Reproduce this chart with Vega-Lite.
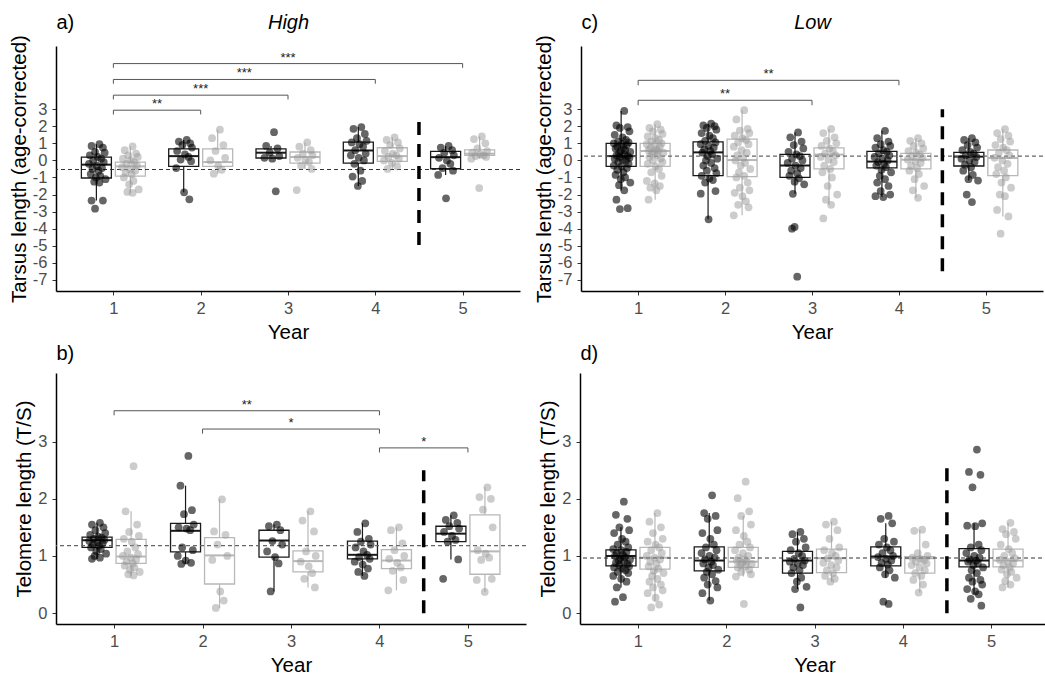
{
"$schema":"https://vega.github.io/schema/vega-lite/v6.json",
"padding":{"left":9,"top":12,"right":0,"bottom":0},
"config":{"font":"Liberation Sans","view":{"stroke":null},
"axis":{"grid":false,"domainColor":"#000","domainWidth":1.5,"tickColor":"#333","tickSize":4,"tickWidth":1,"labelFontSize":16.5,"labelColor":"#4d4d4d","labelPadding":5,"titleFontSize":20.5,"titleFontWeight":"normal","titleColor":"#000","titlePadding":6,"labelOverlap":false,"labelFlush":false},
"axisY":{"titlePadding":3}},
"datasets":{
"a_box":[{"g":"b","year":1,"lo":-2.35,"q1":-1.03,"med":-0.25,"q3":0.19,"hi":0.95},{"g":"g","year":1,"lo":-1.9,"q1":-0.92,"med":-0.35,"q3":-0.1,"hi":0.82},{"g":"b","year":2,"lo":-1.87,"q1":-0.35,"med":0.25,"q3":0.68,"hi":1.2},{"g":"g","year":2,"lo":-0.78,"q1":-0.35,"med":-0.1,"q3":0.68,"hi":1.8},{"g":"b","year":3,"lo":0.1,"q1":0.14,"med":0.45,"q3":0.68,"hi":0.85},{"g":"g","year":3,"lo":-0.5,"q1":-0.16,"med":0.2,"q3":0.49,"hi":1.05},{"g":"b","year":4,"lo":-1.5,"q1":-0.16,"med":0.58,"q3":1.07,"hi":1.95},{"g":"g","year":4,"lo":-0.5,"q1":-0.06,"med":0.25,"q3":0.74,"hi":1.35},{"g":"b","year":5,"lo":-0.85,"q1":-0.49,"med":0.19,"q3":0.53,"hi":0.85},{"g":"g","year":5,"lo":0.1,"q1":0.29,"med":0.39,"q3":0.62,"hi":1.4}],
"c_box":[{"g":"b","year":1,"lo":-1.76,"q1":-0.35,"med":0.25,"q3":1.0,"hi":2.9},{"g":"g","year":1,"lo":-2.3,"q1":-0.35,"med":0.55,"q3":1.0,"hi":2.12},{"g":"b","year":2,"lo":-3.45,"q1":-0.89,"med":0.47,"q3":1.09,"hi":2.15},{"g":"g","year":2,"lo":-3.22,"q1":-0.95,"med":0.02,"q3":1.25,"hi":2.94},{"g":"b","year":3,"lo":-1.96,"q1":-0.99,"med":-0.3,"q3":0.35,"hi":1.64},{"g":"g","year":3,"lo":-2.6,"q1":-0.5,"med":0.34,"q3":0.73,"hi":1.84},{"g":"b","year":4,"lo":-2.15,"q1":-0.44,"med":-0.07,"q3":0.53,"hi":1.73},{"g":"g","year":4,"lo":-2.19,"q1":-0.5,"med":0.04,"q3":0.41,"hi":1.3},{"g":"b","year":5,"lo":-1.18,"q1":-0.33,"med":0.22,"q3":0.47,"hi":1.3},{"g":"g","year":5,"lo":-3.28,"q1":-0.89,"med":0.14,"q3":0.61,"hi":1.83}],
"b_box":[{"g":"b","year":1,"lo":0.95,"q1":1.15,"med":1.275,"q3":1.33,"hi":1.58},{"g":"g","year":1,"lo":0.66,"q1":0.87,"med":0.99,"q3":1.29,"hi":1.78},{"g":"b","year":2,"lo":0.86,"q1":1.07,"med":1.44,"q3":1.57,"hi":2.23},{"g":"g","year":2,"lo":0.09,"q1":0.51,"med":1.01,"q3":1.32,"hi":1.99},{"g":"b","year":3,"lo":0.38,"q1":0.98,"med":1.27,"q3":1.45,"hi":1.55},{"g":"g","year":3,"lo":0.45,"q1":0.72,"med":0.91,"q3":1.09,"hi":1.78},{"g":"b","year":4,"lo":0.65,"q1":0.95,"med":1.02,"q3":1.26,"hi":1.57},{"g":"g","year":4,"lo":0.4,"q1":0.78,"med":0.92,"q3":1.11,"hi":1.5},{"g":"b","year":5,"lo":0.94,"q1":1.25,"med":1.39,"q3":1.52,"hi":1.71},{"g":"g","year":5,"lo":0.37,"q1":0.68,"med":1.08,"q3":1.72,"hi":2.2}],
"d_box":[{"g":"b","year":1,"lo":0.45,"q1":0.825,"med":1.0,"q3":1.105,"hi":1.5},{"g":"g","year":1,"lo":0.2,"q1":0.77,"med":0.97,"q3":1.15,"hi":1.75},{"g":"b","year":2,"lo":0.22,"q1":0.74,"med":0.92,"q3":1.16,"hi":1.75},{"g":"g","year":2,"lo":0.64,"q1":0.8,"med":0.9,"q3":1.15,"hi":1.7},{"g":"b","year":3,"lo":0.42,"q1":0.7,"med":0.92,"q3":1.08,"hi":1.42},{"g":"g","year":3,"lo":0.55,"q1":0.71,"med":0.96,"q3":1.12,"hi":1.6},{"g":"b","year":4,"lo":0.62,"q1":0.825,"med":0.99,"q3":1.16,"hi":1.57},{"g":"g","year":4,"lo":0.36,"q1":0.7,"med":0.96,"q3":0.99,"hi":1.46},{"g":"b","year":5,"lo":0.33,"q1":0.81,"med":0.92,"q3":1.13,"hi":1.57},{"g":"g","year":5,"lo":0.45,"q1":0.81,"med":0.92,"q3":1.12,"hi":1.58}],
"a_br":[{"x1":1,"x2":2,"xm":1.5,"y":2.94,"yt":2.69,"lab":"**"},{"x1":1,"x2":3,"xm":2,"y":3.82,"yt":3.57,"lab":"***"},{"x1":1,"x2":4,"xm":2.5,"y":4.74,"yt":4.49,"lab":"***"},{"x1":1,"x2":5,"xm":3,"y":5.67,"yt":5.42,"lab":"***"}],
"c_br":[{"x1":1,"x2":3,"xm":2,"y":3.52,"yt":3.23,"lab":"**"},{"x1":1,"x2":4,"xm":2.5,"y":4.69,"yt":4.4,"lab":"**"}],
"b_br":[{"x1":1,"x2":4,"xm":2.5,"y":3.54,"yt":3.46,"lab":"**"},{"x1":2,"x2":4,"xm":3,"y":3.22,"yt":3.14,"lab":"*"},{"x1":4,"x2":5,"xm":4.5,"y":2.89,"yt":2.81,"lab":"*"}],
"a_b":[{"x":0.84,"v":0.95},{"x":0.75,"v":0.85},{"x":0.88,"v":0.75},{"x":0.79,"v":0.5},{"x":0.9,"v":0.45},{"x":0.73,"v":0.3},{"x":0.82,"v":0.2},{"x":0.86,"v":0.1},{"x":0.77,"v":0},{"x":0.89,"v":-0.1},{"x":0.72,"v":-0.2},{"x":0.81,"v":-0.3},{"x":0.87,"v":-0.45},{"x":0.76,"v":-0.5},{"x":0.83,"v":-0.6},{"x":0.74,"v":-0.8},{"x":0.85,"v":-0.9},{"x":0.8,"v":-1},{"x":0.91,"v":-1.1},{"x":0.78,"v":-1.25},{"x":0.84,"v":-1.3},{"x":0.75,"v":-2.35},{"x":0.88,"v":-2.35},{"x":0.79,"v":-2.83},
{"x":1.84,"v":1.2},{"x":1.75,"v":1.1},{"x":1.88,"v":1.0},{"x":1.79,"v":0.9},{"x":1.9,"v":0.75},{"x":1.73,"v":0.55},{"x":1.82,"v":0.35},{"x":1.86,"v":0.2},{"x":1.77,"v":0.05},{"x":1.89,"v":-0.05},{"x":1.72,"v":-0.45},{"x":1.81,"v":-1.87},{"x":1.87,"v":-2.28},
{"x":2.84,"v":1.65},{"x":2.75,"v":0.85},{"x":2.88,"v":0.7},{"x":2.79,"v":0.45},{"x":2.9,"v":0.25},{"x":2.73,"v":0.15},{"x":2.82,"v":0.1},{"x":2.86,"v":-1.81},
{"x":3.84,"v":1.95},{"x":3.75,"v":1.85},{"x":3.88,"v":1.55},{"x":3.79,"v":1.3},{"x":3.9,"v":1.15},{"x":3.73,"v":1.05},{"x":3.82,"v":0.95},{"x":3.86,"v":0.8},{"x":3.77,"v":0.6},{"x":3.89,"v":0.4},{"x":3.72,"v":0.3},{"x":3.81,"v":0.15},{"x":3.87,"v":0},{"x":3.76,"v":-0.2},{"x":3.83,"v":-0.6},{"x":3.74,"v":-0.95},{"x":3.85,"v":-1.2},{"x":3.8,"v":-1.5},
{"x":4.84,"v":0.85},{"x":4.75,"v":0.75},{"x":4.88,"v":0.6},{"x":4.79,"v":0.45},{"x":4.9,"v":0.3},{"x":4.73,"v":0.15},{"x":4.82,"v":0},{"x":4.86,"v":-0.2},{"x":4.77,"v":-0.45},{"x":4.89,"v":-0.6},{"x":4.72,"v":-0.85},{"x":4.81,"v":-2.22}],
"a_g":[{"x":1.22,"v":0.82},{"x":1.13,"v":0.6},{"x":1.26,"v":0.4},{"x":1.17,"v":0.3},{"x":1.28,"v":0.2},{"x":1.11,"v":0.1},{"x":1.2,"v":0},{"x":1.24,"v":-0.1},{"x":1.15,"v":-0.2},{"x":1.27,"v":-0.3},{"x":1.1,"v":-0.4},{"x":1.19,"v":-0.5},{"x":1.25,"v":-0.6},{"x":1.14,"v":-0.7},{"x":1.21,"v":-0.8},{"x":1.12,"v":-1.0},{"x":1.23,"v":-1.2},{"x":1.18,"v":-1.4},{"x":1.29,"v":-1.7},{"x":1.16,"v":-1.85},{"x":1.22,"v":-1.9},
{"x":2.22,"v":1.8},{"x":2.13,"v":1.3},{"x":2.26,"v":0.9},{"x":2.17,"v":0.55},{"x":2.28,"v":0.15},{"x":2.11,"v":0},{"x":2.2,"v":-0.3},{"x":2.24,"v":-0.55},{"x":2.15,"v":-0.78},
{"x":3.22,"v":1.05},{"x":3.13,"v":0.8},{"x":3.26,"v":0.6},{"x":3.17,"v":0.4},{"x":3.28,"v":0.3},{"x":3.11,"v":0.15},{"x":3.2,"v":0.05},{"x":3.24,"v":-0.1},{"x":3.15,"v":-0.3},{"x":3.27,"v":-0.5},{"x":3.1,"v":-1.74},
{"x":4.22,"v":1.35},{"x":4.13,"v":1.2},{"x":4.26,"v":1.05},{"x":4.17,"v":0.9},{"x":4.28,"v":0.7},{"x":4.11,"v":0.55},{"x":4.2,"v":0.4},{"x":4.24,"v":0.3},{"x":4.15,"v":0.2},{"x":4.27,"v":0.1},{"x":4.1,"v":0},{"x":4.19,"v":-0.15},{"x":4.25,"v":-0.35},{"x":4.14,"v":-0.5},
{"x":5.22,"v":1.4},{"x":5.13,"v":1.25},{"x":5.26,"v":1.0},{"x":5.17,"v":0.7},{"x":5.28,"v":0.55},{"x":5.11,"v":0.45},{"x":5.2,"v":0.35},{"x":5.24,"v":0.3},{"x":5.15,"v":0.25},{"x":5.27,"v":0.2},{"x":5.1,"v":0.1},{"x":5.19,"v":-1.62}],
"c_b":[{"x":0.84,"v":2.9},{"x":0.75,"v":2.05},{"x":0.88,"v":1.95},{"x":0.79,"v":1.9},{"x":0.9,"v":1.7},{"x":0.73,"v":1.5},{"x":0.82,"v":1.35},{"x":0.86,"v":1.2},{"x":0.77,"v":1.1},{"x":0.89,"v":1.05},{"x":0.72,"v":1.0},{"x":0.81,"v":0.95},{"x":0.87,"v":0.9},{"x":0.76,"v":0.8},{"x":0.83,"v":0.75},{"x":0.74,"v":0.7},{"x":0.85,"v":0.6},{"x":0.8,"v":0.55},{"x":0.91,"v":0.5},{"x":0.78,"v":0.4},{"x":0.84,"v":0.35},{"x":0.75,"v":0.3},{"x":0.88,"v":0.25},{"x":0.79,"v":0.2},{"x":0.9,"v":0.15},{"x":0.73,"v":0.1},{"x":0.82,"v":0.05},{"x":0.86,"v":0},{"x":0.77,"v":-0.1},{"x":0.89,"v":-0.2},{"x":0.72,"v":-0.3},{"x":0.81,"v":-0.35},{"x":0.87,"v":-0.45},{"x":0.76,"v":-0.55},{"x":0.83,"v":-0.7},{"x":0.74,"v":-0.85},{"x":0.85,"v":-1},{"x":0.8,"v":-1.1},{"x":0.91,"v":-1.3},{"x":0.78,"v":-1.45},{"x":0.84,"v":-1.75},{"x":0.75,"v":-2.3},{"x":0.88,"v":-2.8},{"x":0.79,"v":-2.85},
{"x":1.84,"v":2.15},{"x":1.75,"v":2.05},{"x":1.88,"v":2.0},{"x":1.79,"v":1.9},{"x":1.9,"v":1.8},{"x":1.73,"v":1.6},{"x":1.82,"v":1.45},{"x":1.86,"v":1.3},{"x":1.77,"v":1.15},{"x":1.89,"v":1.05},{"x":1.72,"v":0.95},{"x":1.81,"v":0.85},{"x":1.87,"v":0.75},{"x":1.76,"v":0.65},{"x":1.83,"v":0.55},{"x":1.74,"v":0.45},{"x":1.85,"v":0.35},{"x":1.8,"v":0.25},{"x":1.91,"v":0.1},{"x":1.78,"v":0},{"x":1.84,"v":-0.15},{"x":1.75,"v":-0.3},{"x":1.88,"v":-0.45},{"x":1.79,"v":-0.6},{"x":1.9,"v":-0.75},{"x":1.73,"v":-0.9},{"x":1.82,"v":-1.05},{"x":1.86,"v":-1.15},{"x":1.77,"v":-1.3},{"x":1.89,"v":-1.8},{"x":1.72,"v":-1.95},{"x":1.81,"v":-3.45},
{"x":2.84,"v":1.64},{"x":2.75,"v":1.35},{"x":2.88,"v":1.1},{"x":2.79,"v":0.9},{"x":2.9,"v":0.7},{"x":2.73,"v":0.5},{"x":2.82,"v":0.35},{"x":2.86,"v":0.25},{"x":2.77,"v":0.1},{"x":2.89,"v":0},{"x":2.72,"v":-0.15},{"x":2.81,"v":-0.3},{"x":2.87,"v":-0.45},{"x":2.76,"v":-0.6},{"x":2.83,"v":-0.75},{"x":2.74,"v":-0.9},{"x":2.85,"v":-1.05},{"x":2.8,"v":-1.25},{"x":2.91,"v":-1.4},{"x":2.78,"v":-1.96},{"x":2.8,"v":-3.9},{"x":2.77,"v":-4.0},{"x":2.83,"v":-6.81},
{"x":3.84,"v":1.73},{"x":3.75,"v":1.3},{"x":3.88,"v":1.1},{"x":3.79,"v":0.95},{"x":3.9,"v":0.85},{"x":3.73,"v":0.75},{"x":3.82,"v":0.6},{"x":3.86,"v":0.5},{"x":3.77,"v":0.4},{"x":3.89,"v":0.3},{"x":3.72,"v":0.2},{"x":3.81,"v":0.1},{"x":3.87,"v":0},{"x":3.76,"v":-0.1},{"x":3.83,"v":-0.2},{"x":3.74,"v":-0.3},{"x":3.85,"v":-0.4},{"x":3.8,"v":-0.55},{"x":3.91,"v":-0.7},{"x":3.78,"v":-0.9},{"x":3.84,"v":-1.1},{"x":3.75,"v":-1.3},{"x":3.88,"v":-1.5},{"x":3.79,"v":-1.8},{"x":3.9,"v":-2.0},{"x":3.73,"v":-2.1},{"x":3.82,"v":-2.15},
{"x":4.84,"v":1.3},{"x":4.75,"v":1.2},{"x":4.88,"v":1.05},{"x":4.79,"v":0.9},{"x":4.9,"v":0.75},{"x":4.73,"v":0.6},{"x":4.82,"v":0.5},{"x":4.86,"v":0.4},{"x":4.77,"v":0.3},{"x":4.89,"v":0.2},{"x":4.72,"v":0.1},{"x":4.81,"v":0},{"x":4.87,"v":-0.1},{"x":4.76,"v":-0.25},{"x":4.83,"v":-0.4},{"x":4.74,"v":-0.6},{"x":4.85,"v":-0.85},{"x":4.8,"v":-1.1},{"x":4.91,"v":-1.18},{"x":4.78,"v":-2.0},{"x":4.84,"v":-2.44}],
"c_g":[{"x":1.22,"v":2.12},{"x":1.13,"v":1.9},{"x":1.26,"v":1.8},{"x":1.17,"v":1.7},{"x":1.28,"v":1.55},{"x":1.11,"v":1.4},{"x":1.2,"v":1.3},{"x":1.24,"v":1.2},{"x":1.15,"v":1.1},{"x":1.27,"v":1.0},{"x":1.1,"v":0.95},{"x":1.19,"v":0.9},{"x":1.25,"v":0.8},{"x":1.14,"v":0.7},{"x":1.21,"v":0.65},{"x":1.12,"v":0.6},{"x":1.23,"v":0.55},{"x":1.18,"v":0.5},{"x":1.29,"v":0.45},{"x":1.16,"v":0.4},{"x":1.22,"v":0.3},{"x":1.13,"v":0.2},{"x":1.26,"v":0.1},{"x":1.17,"v":0},{"x":1.28,"v":-0.1},{"x":1.11,"v":-0.2},{"x":1.2,"v":-0.35},{"x":1.24,"v":-0.5},{"x":1.15,"v":-0.7},{"x":1.27,"v":-0.9},{"x":1.1,"v":-1.2},{"x":1.19,"v":-1.35},{"x":1.25,"v":-1.5},{"x":1.14,"v":-1.6},{"x":1.21,"v":-1.75},{"x":1.12,"v":-2.3},
{"x":2.22,"v":2.94},{"x":2.13,"v":2.4},{"x":2.26,"v":1.85},{"x":2.17,"v":1.75},{"x":2.28,"v":1.6},{"x":2.11,"v":1.45},{"x":2.2,"v":1.3},{"x":2.24,"v":1.2},{"x":2.15,"v":1.05},{"x":2.27,"v":0.95},{"x":2.1,"v":0.8},{"x":2.19,"v":0.6},{"x":2.25,"v":0.45},{"x":2.14,"v":0.3},{"x":2.21,"v":0.15},{"x":2.12,"v":0},{"x":2.23,"v":-0.15},{"x":2.18,"v":-0.3},{"x":2.29,"v":-0.5},{"x":2.16,"v":-0.7},{"x":2.22,"v":-0.9},{"x":2.13,"v":-1.0},{"x":2.26,"v":-1.3},{"x":2.17,"v":-1.6},{"x":2.28,"v":-1.75},{"x":2.11,"v":-1.9},{"x":2.2,"v":-2.1},{"x":2.24,"v":-2.4},{"x":2.15,"v":-2.6},{"x":2.27,"v":-2.75},{"x":2.1,"v":-3.22},
{"x":3.22,"v":1.84},{"x":3.13,"v":1.6},{"x":3.26,"v":1.35},{"x":3.17,"v":1.15},{"x":3.28,"v":1.0},{"x":3.11,"v":0.85},{"x":3.2,"v":0.7},{"x":3.24,"v":0.55},{"x":3.15,"v":0.4},{"x":3.27,"v":0.3},{"x":3.1,"v":0.2},{"x":3.19,"v":0.05},{"x":3.25,"v":-0.1},{"x":3.14,"v":-0.3},{"x":3.21,"v":-0.5},{"x":3.12,"v":-0.7},{"x":3.23,"v":-1.0},{"x":3.18,"v":-1.5},{"x":3.29,"v":-2.0},{"x":3.16,"v":-2.3},{"x":3.22,"v":-2.6},{"x":3.13,"v":-3.4},
{"x":4.22,"v":1.3},{"x":4.13,"v":1.15},{"x":4.26,"v":1.0},{"x":4.17,"v":0.85},{"x":4.28,"v":0.7},{"x":4.11,"v":0.55},{"x":4.2,"v":0.45},{"x":4.24,"v":0.35},{"x":4.15,"v":0.25},{"x":4.27,"v":0.15},{"x":4.1,"v":0.05},{"x":4.19,"v":-0.05},{"x":4.25,"v":-0.15},{"x":4.14,"v":-0.3},{"x":4.21,"v":-0.45},{"x":4.12,"v":-0.6},{"x":4.23,"v":-0.8},{"x":4.18,"v":-1.1},{"x":4.29,"v":-1.5},{"x":4.16,"v":-1.75},{"x":4.22,"v":-2.19},
{"x":5.22,"v":1.83},{"x":5.13,"v":1.6},{"x":5.26,"v":1.45},{"x":5.17,"v":1.25},{"x":5.28,"v":1.1},{"x":5.11,"v":0.9},{"x":5.2,"v":0.75},{"x":5.24,"v":0.6},{"x":5.15,"v":0.45},{"x":5.27,"v":0.3},{"x":5.1,"v":0.15},{"x":5.19,"v":0},{"x":5.25,"v":-0.2},{"x":5.14,"v":-0.4},{"x":5.21,"v":-0.6},{"x":5.12,"v":-0.8},{"x":5.23,"v":-1.0},{"x":5.18,"v":-1.3},{"x":5.29,"v":-1.6},{"x":5.16,"v":-2.0},{"x":5.22,"v":-2.1},{"x":5.13,"v":-2.9},{"x":5.26,"v":-3.28},{"x":5.17,"v":-4.29}],
"b_b":[{"x":0.84,"v":1.58},{"x":0.75,"v":1.55},{"x":0.88,"v":1.5},{"x":0.79,"v":1.45},{"x":0.9,"v":1.4},{"x":0.73,"v":1.37},{"x":0.82,"v":1.34},{"x":0.86,"v":1.32},{"x":0.77,"v":1.3},{"x":0.89,"v":1.28},{"x":0.72,"v":1.26},{"x":0.81,"v":1.24},{"x":0.87,"v":1.22},{"x":0.76,"v":1.2},{"x":0.83,"v":1.18},{"x":0.74,"v":1.15},{"x":0.85,"v":1.12},{"x":0.8,"v":1.08},{"x":0.91,"v":1.04},{"x":0.78,"v":1.0},{"x":0.84,"v":0.97},{"x":0.75,"v":0.95},
{"x":1.84,"v":2.75},{"x":1.75,"v":2.23},{"x":1.88,"v":1.8},{"x":1.79,"v":1.73},{"x":1.9,"v":1.55},{"x":1.73,"v":1.5},{"x":1.82,"v":1.48},{"x":1.86,"v":1.45},{"x":1.77,"v":1.15},{"x":1.89,"v":1.1},{"x":1.72,"v":1.0},{"x":1.81,"v":0.92},{"x":1.87,"v":0.88},{"x":1.76,"v":0.86},
{"x":2.84,"v":1.55},{"x":2.75,"v":1.52},{"x":2.88,"v":1.45},{"x":2.79,"v":1.26},{"x":2.9,"v":1.2},{"x":2.73,"v":1.08},{"x":2.82,"v":0.98},{"x":2.86,"v":0.87},{"x":2.77,"v":0.38},
{"x":3.84,"v":1.57},{"x":3.75,"v":1.42},{"x":3.88,"v":1.3},{"x":3.79,"v":1.25},{"x":3.9,"v":1.2},{"x":3.73,"v":1.15},{"x":3.82,"v":1.08},{"x":3.86,"v":1.02},{"x":3.77,"v":0.98},{"x":3.89,"v":0.95},{"x":3.72,"v":0.9},{"x":3.81,"v":0.85},{"x":3.87,"v":0.78},{"x":3.76,"v":0.72},{"x":3.83,"v":0.65},
{"x":4.84,"v":1.71},{"x":4.75,"v":1.63},{"x":4.88,"v":1.58},{"x":4.79,"v":1.52},{"x":4.9,"v":1.48},{"x":4.73,"v":1.42},{"x":4.82,"v":1.35},{"x":4.86,"v":1.28},{"x":4.77,"v":1.25},{"x":4.89,"v":0.94},{"x":4.72,"v":0.6}],
"b_g":[{"x":1.22,"v":2.57},{"x":1.13,"v":1.78},{"x":1.26,"v":1.55},{"x":1.17,"v":1.42},{"x":1.28,"v":1.35},{"x":1.11,"v":1.3},{"x":1.2,"v":1.25},{"x":1.24,"v":1.15},{"x":1.15,"v":1.08},{"x":1.27,"v":1.03},{"x":1.1,"v":1.0},{"x":1.19,"v":0.97},{"x":1.25,"v":0.94},{"x":1.14,"v":0.9},{"x":1.21,"v":0.87},{"x":1.12,"v":0.83},{"x":1.23,"v":0.8},{"x":1.18,"v":0.76},{"x":1.29,"v":0.72},{"x":1.16,"v":0.68},{"x":1.22,"v":0.66},
{"x":2.22,"v":1.99},{"x":2.13,"v":1.43},{"x":2.26,"v":1.37},{"x":2.17,"v":1.2},{"x":2.28,"v":1.0},{"x":2.11,"v":0.93},{"x":2.2,"v":0.38},{"x":2.24,"v":0.22},{"x":2.15,"v":0.09},
{"x":3.22,"v":1.78},{"x":3.13,"v":1.62},{"x":3.26,"v":1.43},{"x":3.17,"v":1.08},{"x":3.28,"v":1.0},{"x":3.11,"v":0.9},{"x":3.2,"v":0.82},{"x":3.24,"v":0.7},{"x":3.15,"v":0.6},{"x":3.27,"v":0.45},
{"x":4.22,"v":1.5},{"x":4.13,"v":1.45},{"x":4.26,"v":1.22},{"x":4.17,"v":1.1},{"x":4.28,"v":1.0},{"x":4.11,"v":0.95},{"x":4.2,"v":0.88},{"x":4.24,"v":0.8},{"x":4.15,"v":0.74},{"x":4.27,"v":0.58},{"x":4.1,"v":0.4},
{"x":5.22,"v":2.2},{"x":5.13,"v":2.03},{"x":5.26,"v":2.0},{"x":5.17,"v":1.81},{"x":5.28,"v":1.5},{"x":5.11,"v":1.1},{"x":5.2,"v":1.04},{"x":5.24,"v":0.97},{"x":5.15,"v":0.93},{"x":5.27,"v":0.6},{"x":5.1,"v":0.58},{"x":5.19,"v":0.37}],
"d_b":[{"x":0.84,"v":1.95},{"x":0.75,"v":1.72},{"x":0.88,"v":1.65},{"x":0.79,"v":1.5},{"x":0.9,"v":1.45},{"x":0.73,"v":1.4},{"x":0.82,"v":1.3},{"x":0.86,"v":1.25},{"x":0.77,"v":1.2},{"x":0.89,"v":1.15},{"x":0.72,"v":1.12},{"x":0.81,"v":1.1},{"x":0.87,"v":1.07},{"x":0.76,"v":1.05},{"x":0.83,"v":1.02},{"x":0.74,"v":1.0},{"x":0.85,"v":0.98},{"x":0.8,"v":0.96},{"x":0.91,"v":0.94},{"x":0.78,"v":0.92},{"x":0.84,"v":0.9},{"x":0.75,"v":0.88},{"x":0.88,"v":0.86},{"x":0.79,"v":0.84},{"x":0.9,"v":0.82},{"x":0.73,"v":0.8},{"x":0.82,"v":0.78},{"x":0.86,"v":0.75},{"x":0.77,"v":0.72},{"x":0.89,"v":0.7},{"x":0.72,"v":0.65},{"x":0.81,"v":0.6},{"x":0.87,"v":0.55},{"x":0.76,"v":0.45},{"x":0.83,"v":0.28},{"x":0.74,"v":0.2},
{"x":1.84,"v":2.06},{"x":1.75,"v":1.75},{"x":1.88,"v":1.7},{"x":1.79,"v":1.65},{"x":1.9,"v":1.45},{"x":1.73,"v":1.4},{"x":1.82,"v":1.3},{"x":1.86,"v":1.2},{"x":1.77,"v":1.15},{"x":1.89,"v":1.1},{"x":1.72,"v":1.05},{"x":1.81,"v":1.0},{"x":1.87,"v":0.97},{"x":1.76,"v":0.94},{"x":1.83,"v":0.9},{"x":1.74,"v":0.87},{"x":1.85,"v":0.84},{"x":1.8,"v":0.8},{"x":1.91,"v":0.76},{"x":1.78,"v":0.72},{"x":1.84,"v":0.68},{"x":1.75,"v":0.62},{"x":1.88,"v":0.56},{"x":1.79,"v":0.5},{"x":1.9,"v":0.45},{"x":1.73,"v":0.35},{"x":1.82,"v":0.22},
{"x":2.84,"v":1.42},{"x":2.75,"v":1.38},{"x":2.88,"v":1.3},{"x":2.79,"v":1.25},{"x":2.9,"v":1.15},{"x":2.73,"v":1.1},{"x":2.82,"v":1.05},{"x":2.86,"v":1.0},{"x":2.77,"v":0.95},{"x":2.89,"v":0.92},{"x":2.72,"v":0.9},{"x":2.81,"v":0.87},{"x":2.87,"v":0.84},{"x":2.76,"v":0.8},{"x":2.83,"v":0.75},{"x":2.74,"v":0.7},{"x":2.85,"v":0.62},{"x":2.8,"v":0.55},{"x":2.91,"v":0.46},{"x":2.78,"v":0.42},{"x":2.84,"v":0.1},
{"x":3.84,"v":1.7},{"x":3.75,"v":1.65},{"x":3.88,"v":1.57},{"x":3.79,"v":1.3},{"x":3.9,"v":1.25},{"x":3.73,"v":1.2},{"x":3.82,"v":1.15},{"x":3.86,"v":1.1},{"x":3.77,"v":1.05},{"x":3.89,"v":1.0},{"x":3.72,"v":0.98},{"x":3.81,"v":0.95},{"x":3.87,"v":0.92},{"x":3.76,"v":0.88},{"x":3.83,"v":0.85},{"x":3.74,"v":0.8},{"x":3.85,"v":0.75},{"x":3.8,"v":0.68},{"x":3.91,"v":0.62},{"x":3.78,"v":0.2},{"x":3.84,"v":0.16},
{"x":4.84,"v":2.86},{"x":4.75,"v":2.47},{"x":4.88,"v":2.42},{"x":4.79,"v":2.2},{"x":4.9,"v":1.57},{"x":4.73,"v":1.53},{"x":4.82,"v":1.52},{"x":4.86,"v":1.2},{"x":4.77,"v":1.15},{"x":4.89,"v":1.1},{"x":4.72,"v":1.05},{"x":4.81,"v":1.0},{"x":4.87,"v":0.97},{"x":4.76,"v":0.94},{"x":4.83,"v":0.92},{"x":4.74,"v":0.9},{"x":4.85,"v":0.87},{"x":4.8,"v":0.84},{"x":4.91,"v":0.8},{"x":4.78,"v":0.75},{"x":4.84,"v":0.7},{"x":4.75,"v":0.62},{"x":4.88,"v":0.58},{"x":4.79,"v":0.55},{"x":4.9,"v":0.5},{"x":4.73,"v":0.42},{"x":4.82,"v":0.38},{"x":4.86,"v":0.33},{"x":4.77,"v":0.25},{"x":4.89,"v":0.13}],
"d_g":[{"x":1.22,"v":1.75},{"x":1.13,"v":1.6},{"x":1.26,"v":1.5},{"x":1.17,"v":1.4},{"x":1.28,"v":1.3},{"x":1.11,"v":1.25},{"x":1.2,"v":1.2},{"x":1.24,"v":1.15},{"x":1.15,"v":1.1},{"x":1.27,"v":1.05},{"x":1.1,"v":1.0},{"x":1.19,"v":0.97},{"x":1.25,"v":0.94},{"x":1.14,"v":0.9},{"x":1.21,"v":0.86},{"x":1.12,"v":0.82},{"x":1.23,"v":0.78},{"x":1.18,"v":0.74},{"x":1.29,"v":0.7},{"x":1.16,"v":0.65},{"x":1.22,"v":0.6},{"x":1.13,"v":0.55},{"x":1.26,"v":0.5},{"x":1.17,"v":0.45},{"x":1.28,"v":0.4},{"x":1.11,"v":0.35},{"x":1.2,"v":0.27},{"x":1.24,"v":0.15},{"x":1.15,"v":0.1},
{"x":2.22,"v":2.3},{"x":2.13,"v":2.01},{"x":2.26,"v":1.78},{"x":2.17,"v":1.7},{"x":2.28,"v":1.55},{"x":2.11,"v":1.45},{"x":2.2,"v":1.35},{"x":2.24,"v":1.25},{"x":2.15,"v":1.2},{"x":2.27,"v":1.15},{"x":2.1,"v":1.1},{"x":2.19,"v":1.05},{"x":2.25,"v":1.0},{"x":2.14,"v":0.97},{"x":2.21,"v":0.94},{"x":2.12,"v":0.92},{"x":2.23,"v":0.9},{"x":2.18,"v":0.88},{"x":2.29,"v":0.86},{"x":2.16,"v":0.84},{"x":2.22,"v":0.82},{"x":2.13,"v":0.8},{"x":2.26,"v":0.76},{"x":2.17,"v":0.72},{"x":2.28,"v":0.68},{"x":2.11,"v":0.64},{"x":2.2,"v":0.16},
{"x":3.22,"v":1.6},{"x":3.13,"v":1.55},{"x":3.26,"v":1.45},{"x":3.17,"v":1.3},{"x":3.28,"v":1.15},{"x":3.11,"v":1.1},{"x":3.2,"v":1.05},{"x":3.24,"v":1.0},{"x":3.15,"v":0.96},{"x":3.27,"v":0.92},{"x":3.1,"v":0.88},{"x":3.19,"v":0.84},{"x":3.25,"v":0.8},{"x":3.14,"v":0.75},{"x":3.21,"v":0.7},{"x":3.12,"v":0.65},{"x":3.23,"v":0.6},{"x":3.18,"v":0.55},
{"x":4.22,"v":1.46},{"x":4.13,"v":1.44},{"x":4.26,"v":1.2},{"x":4.17,"v":1.05},{"x":4.28,"v":1.0},{"x":4.11,"v":0.97},{"x":4.2,"v":0.95},{"x":4.24,"v":0.92},{"x":4.15,"v":0.9},{"x":4.27,"v":0.87},{"x":4.1,"v":0.84},{"x":4.19,"v":0.8},{"x":4.25,"v":0.75},{"x":4.14,"v":0.7},{"x":4.21,"v":0.65},{"x":4.12,"v":0.58},{"x":4.23,"v":0.5},{"x":4.18,"v":0.36},
{"x":5.22,"v":1.58},{"x":5.13,"v":1.47},{"x":5.26,"v":1.42},{"x":5.17,"v":1.38},{"x":5.28,"v":1.3},{"x":5.11,"v":1.2},{"x":5.2,"v":1.12},{"x":5.24,"v":1.05},{"x":5.15,"v":1.0},{"x":5.27,"v":0.96},{"x":5.1,"v":0.93},{"x":5.19,"v":0.9},{"x":5.25,"v":0.87},{"x":5.14,"v":0.84},{"x":5.21,"v":0.8},{"x":5.12,"v":0.76},{"x":5.23,"v":0.72},{"x":5.18,"v":0.68},{"x":5.29,"v":0.62},{"x":5.16,"v":0.56},{"x":5.22,"v":0.5},{"x":5.13,"v":0.45}]
},
"vconcat":[
{"hconcat":[
{"width":464,"height":245,"resolve":{"axis":{"x":"independent","y":"independent"}},"layer":[
{"data":{"name":"a_box"},"transform":[{"filter":"datum.g=='b'"}],"mark":{"type":"rule","color":"#1a1a1a","strokeWidth":1.2,"xOffset":-17},"encoding":{"x":{"field":"year","type":"quantitative","scale":{"domain":[0.4,5.6],"nice":false,"zero":false},"axis":null},"y":{"field":"lo","type":"quantitative","scale":{"domain":[-7.65,6.7],"nice":false,"zero":false},"axis":{"title":"Tarsus length (age-corrected)","values":[-7,-6,-5,-4,-3,-2,-1,0,1,2,3],"labelExpr":"datum.value + ''"}},"y2":{"field":"hi"}}},
{"data":{"name":"a_box"},"transform":[{"filter":"datum.g=='g'"}],"mark":{"type":"rule","color":"#b8b8b8","strokeWidth":1.2,"xOffset":17},"encoding":{"x":{"field":"year","type":"quantitative","axis":null},"y":{"field":"lo","type":"quantitative","axis":null},"y2":{"field":"hi"}}},
{"data":{"name":"a_box"},"transform":[{"filter":"datum.g=='b'"}],"mark":{"type":"bar","fill":"#fff","stroke":"#1a1a1a","strokeWidth":1.3,"size":30,"xOffset":-17},"encoding":{"x":{"field":"year","type":"quantitative","axis":null},"y":{"field":"q1","type":"quantitative","axis":null},"y2":{"field":"q3"}}},
{"data":{"name":"a_box"},"transform":[{"filter":"datum.g=='g'"}],"mark":{"type":"bar","fill":"#fff","stroke":"#b8b8b8","strokeWidth":1.3,"size":30,"xOffset":17},"encoding":{"x":{"field":"year","type":"quantitative","axis":null},"y":{"field":"q1","type":"quantitative","axis":null},"y2":{"field":"q3"}}},
{"data":{"name":"a_box"},"transform":[{"filter":"datum.g=='b'"}],"mark":{"type":"tick","orient":"horizontal","color":"#1a1a1a","thickness":2,"size":30,"xOffset":-17,"opacity":1},"encoding":{"x":{"field":"year","type":"quantitative","axis":null},"y":{"field":"med","type":"quantitative","axis":null}}},
{"data":{"name":"a_box"},"transform":[{"filter":"datum.g=='g'"}],"mark":{"type":"tick","orient":"horizontal","color":"#b8b8b8","thickness":2,"size":30,"xOffset":17,"opacity":1},"encoding":{"x":{"field":"year","type":"quantitative","axis":null},"y":{"field":"med","type":"quantitative","axis":null}}},
{"data":{"values":[{}]},"mark":{"type":"rule","color":"#333","strokeWidth":1.1,"strokeDash":[4,3]},"encoding":{"y":{"datum":-0.53,"type":"quantitative","axis":null}}},
{"data":{"values":[{}]},"mark":{"type":"rule","color":"#000","strokeWidth":3.5,"strokeDash":[13,9]},"encoding":{"x":{"datum":4.5,"type":"quantitative","axis":{"orient":"top","title":"High","titleFontStyle":"italic","titleFontSize":20,"labels":false,"ticks":false,"domain":false,"titlePadding":14}},"y":{"datum":-4.95,"type":"quantitative","axis":null},"y2":{"datum":2.32}}},
{"data":{"name":"a_br"},"mark":{"type":"rule","color":"#555","strokeWidth":1},"encoding":{"x":{"field":"x1","type":"quantitative","axis":null},"x2":{"field":"x2"},"y":{"field":"y","type":"quantitative","axis":null}}},
{"data":{"name":"a_br"},"mark":{"type":"rule","color":"#555","strokeWidth":1},"encoding":{"x":{"field":"x1","type":"quantitative","axis":null},"y":{"field":"y","type":"quantitative","axis":null},"y2":{"field":"yt"}}},
{"data":{"name":"a_br"},"mark":{"type":"rule","color":"#555","strokeWidth":1},"encoding":{"x":{"field":"x2","type":"quantitative","axis":null},"y":{"field":"y","type":"quantitative","axis":null},"y2":{"field":"yt"}}},
{"data":{"name":"a_br"},"mark":{"type":"text","fontSize":13,"dy":-2,"baseline":"alphabetic","color":"#222"},"encoding":{"x":{"field":"xm","type":"quantitative","axis":null},"y":{"field":"y","type":"quantitative","axis":null},"text":{"field":"lab"}}},
{"data":{"name":"a_g"},"mark":{"type":"circle","color":"#999","opacity":0.5,"size":60},"encoding":{"x":{"field":"x","type":"quantitative","axis":{"orient":"top","title":"a)","titleAnchor":"start","titleFontSize":20,"labels":false,"ticks":false,"domain":false,"titlePadding":14}},"y":{"field":"v","type":"quantitative","axis":null}}},
{"data":{"name":"a_b"},"mark":{"type":"circle","color":"#000","opacity":0.6,"size":60},"encoding":{"x":{"field":"x","type":"quantitative","axis":{"orient":"bottom","title":"Year","values":[1,2,3,4,5]}},"y":{"field":"v","type":"quantitative","axis":null}}}
]},
{"width":462,"height":245,"resolve":{"axis":{"x":"independent","y":"independent"}},"layer":[
{"data":{"name":"c_box"},"transform":[{"filter":"datum.g=='b'"}],"mark":{"type":"rule","color":"#1a1a1a","strokeWidth":1.2,"xOffset":-17},"encoding":{"x":{"field":"year","type":"quantitative","scale":{"domain":[0.4,5.6],"nice":false,"zero":false},"axis":null},"y":{"field":"lo","type":"quantitative","scale":{"domain":[-7.65,6.7],"nice":false,"zero":false},"axis":{"title":"Tarsus length (age-corrected)","values":[-7,-6,-5,-4,-3,-2,-1,0,1,2,3],"labelExpr":"datum.value + ''"}},"y2":{"field":"hi"}}},
{"data":{"name":"c_box"},"transform":[{"filter":"datum.g=='g'"}],"mark":{"type":"rule","color":"#b8b8b8","strokeWidth":1.2,"xOffset":17},"encoding":{"x":{"field":"year","type":"quantitative","axis":null},"y":{"field":"lo","type":"quantitative","axis":null},"y2":{"field":"hi"}}},
{"data":{"name":"c_box"},"transform":[{"filter":"datum.g=='b'"}],"mark":{"type":"bar","fill":"#fff","stroke":"#1a1a1a","strokeWidth":1.3,"size":30,"xOffset":-17},"encoding":{"x":{"field":"year","type":"quantitative","axis":null},"y":{"field":"q1","type":"quantitative","axis":null},"y2":{"field":"q3"}}},
{"data":{"name":"c_box"},"transform":[{"filter":"datum.g=='g'"}],"mark":{"type":"bar","fill":"#fff","stroke":"#b8b8b8","strokeWidth":1.3,"size":30,"xOffset":17},"encoding":{"x":{"field":"year","type":"quantitative","axis":null},"y":{"field":"q1","type":"quantitative","axis":null},"y2":{"field":"q3"}}},
{"data":{"name":"c_box"},"transform":[{"filter":"datum.g=='b'"}],"mark":{"type":"tick","orient":"horizontal","color":"#1a1a1a","thickness":2,"size":30,"xOffset":-17,"opacity":1},"encoding":{"x":{"field":"year","type":"quantitative","axis":null},"y":{"field":"med","type":"quantitative","axis":null}}},
{"data":{"name":"c_box"},"transform":[{"filter":"datum.g=='g'"}],"mark":{"type":"tick","orient":"horizontal","color":"#b8b8b8","thickness":2,"size":30,"xOffset":17,"opacity":1},"encoding":{"x":{"field":"year","type":"quantitative","axis":null},"y":{"field":"med","type":"quantitative","axis":null}}},
{"data":{"values":[{}]},"mark":{"type":"rule","color":"#666","strokeWidth":1.1,"strokeDash":[4,3]},"encoding":{"y":{"datum":0.25,"type":"quantitative","axis":null}}},
{"data":{"values":[{}]},"mark":{"type":"rule","color":"#000","strokeWidth":3.5,"strokeDash":[13,9]},"encoding":{"x":{"datum":4.5,"type":"quantitative","axis":{"orient":"top","title":"Low","titleFontStyle":"italic","titleFontSize":20,"labels":false,"ticks":false,"domain":false,"titlePadding":14}},"y":{"datum":-6.5,"type":"quantitative","axis":null},"y2":{"datum":3.0}}},
{"data":{"name":"c_br"},"mark":{"type":"rule","color":"#555","strokeWidth":1},"encoding":{"x":{"field":"x1","type":"quantitative","axis":null},"x2":{"field":"x2"},"y":{"field":"y","type":"quantitative","axis":null}}},
{"data":{"name":"c_br"},"mark":{"type":"rule","color":"#555","strokeWidth":1},"encoding":{"x":{"field":"x1","type":"quantitative","axis":null},"y":{"field":"y","type":"quantitative","axis":null},"y2":{"field":"yt"}}},
{"data":{"name":"c_br"},"mark":{"type":"rule","color":"#555","strokeWidth":1},"encoding":{"x":{"field":"x2","type":"quantitative","axis":null},"y":{"field":"y","type":"quantitative","axis":null},"y2":{"field":"yt"}}},
{"data":{"name":"c_br"},"mark":{"type":"text","fontSize":13,"dy":-2,"baseline":"alphabetic","color":"#222"},"encoding":{"x":{"field":"xm","type":"quantitative","axis":null},"y":{"field":"y","type":"quantitative","axis":null},"text":{"field":"lab"}}},
{"data":{"name":"c_g"},"mark":{"type":"circle","color":"#999","opacity":0.5,"size":60},"encoding":{"x":{"field":"x","type":"quantitative","axis":{"orient":"top","title":"c)","titleAnchor":"start","titleFontSize":20,"labels":false,"ticks":false,"domain":false,"titlePadding":14}},"y":{"field":"v","type":"quantitative","axis":null}}},
{"data":{"name":"c_b"},"mark":{"type":"circle","color":"#000","opacity":0.6,"size":60},"encoding":{"x":{"field":"x","type":"quantitative","axis":{"orient":"bottom","title":"Year","values":[1,2,3,4,5]}},"y":{"field":"v","type":"quantitative","axis":null}}}
]}
],"spacing":13},
{"hconcat":[
{"width":470,"height":251,"resolve":{"axis":{"x":"independent","y":"independent"}},"layer":[
{"data":{"name":"b_box"},"transform":[{"filter":"datum.g=='b'"}],"mark":{"type":"rule","color":"#1a1a1a","strokeWidth":1.2,"xOffset":-17},"encoding":{"x":{"field":"year","type":"quantitative","scale":{"domain":[0.4,5.6],"nice":false,"zero":false},"axis":null},"y":{"field":"lo","type":"quantitative","scale":{"domain":[-0.19,4.2],"nice":false,"zero":false},"axis":{"title":"Telomere length (T/S)","values":[0,1,2,3],"labelExpr":"datum.value + ''"}},"y2":{"field":"hi"}}},
{"data":{"name":"b_box"},"transform":[{"filter":"datum.g=='g'"}],"mark":{"type":"rule","color":"#b8b8b8","strokeWidth":1.2,"xOffset":17},"encoding":{"x":{"field":"year","type":"quantitative","axis":null},"y":{"field":"lo","type":"quantitative","axis":null},"y2":{"field":"hi"}}},
{"data":{"name":"b_box"},"transform":[{"filter":"datum.g=='b'"}],"mark":{"type":"bar","fill":"#fff","stroke":"#1a1a1a","strokeWidth":1.3,"size":30,"xOffset":-17},"encoding":{"x":{"field":"year","type":"quantitative","axis":null},"y":{"field":"q1","type":"quantitative","axis":null},"y2":{"field":"q3"}}},
{"data":{"name":"b_box"},"transform":[{"filter":"datum.g=='g'"}],"mark":{"type":"bar","fill":"#fff","stroke":"#b8b8b8","strokeWidth":1.3,"size":30,"xOffset":17},"encoding":{"x":{"field":"year","type":"quantitative","axis":null},"y":{"field":"q1","type":"quantitative","axis":null},"y2":{"field":"q3"}}},
{"data":{"name":"b_box"},"transform":[{"filter":"datum.g=='b'"}],"mark":{"type":"tick","orient":"horizontal","color":"#1a1a1a","thickness":2,"size":30,"xOffset":-17,"opacity":1},"encoding":{"x":{"field":"year","type":"quantitative","axis":null},"y":{"field":"med","type":"quantitative","axis":null}}},
{"data":{"name":"b_box"},"transform":[{"filter":"datum.g=='g'"}],"mark":{"type":"tick","orient":"horizontal","color":"#b8b8b8","thickness":2,"size":30,"xOffset":17,"opacity":1},"encoding":{"x":{"field":"year","type":"quantitative","axis":null},"y":{"field":"med","type":"quantitative","axis":null}}},
{"data":{"values":[{}]},"mark":{"type":"rule","color":"#666","strokeWidth":1.1,"strokeDash":[4,3]},"encoding":{"y":{"datum":1.18,"type":"quantitative","axis":null}}},
{"data":{"values":[{}]},"mark":{"type":"rule","color":"#000","strokeWidth":3.5,"strokeDash":[13,9]},"encoding":{"x":{"datum":4.5,"type":"quantitative","axis":null},"y":{"datum":0,"type":"quantitative","axis":null},"y2":{"datum":2.5}}},
{"data":{"name":"b_br"},"mark":{"type":"rule","color":"#555","strokeWidth":1},"encoding":{"x":{"field":"x1","type":"quantitative","axis":null},"x2":{"field":"x2"},"y":{"field":"y","type":"quantitative","axis":null}}},
{"data":{"name":"b_br"},"mark":{"type":"rule","color":"#555","strokeWidth":1},"encoding":{"x":{"field":"x1","type":"quantitative","axis":null},"y":{"field":"y","type":"quantitative","axis":null},"y2":{"field":"yt"}}},
{"data":{"name":"b_br"},"mark":{"type":"rule","color":"#555","strokeWidth":1},"encoding":{"x":{"field":"x2","type":"quantitative","axis":null},"y":{"field":"y","type":"quantitative","axis":null},"y2":{"field":"yt"}}},
{"data":{"name":"b_br"},"mark":{"type":"text","fontSize":13,"dy":-2,"baseline":"alphabetic","color":"#222"},"encoding":{"x":{"field":"xm","type":"quantitative","axis":null},"y":{"field":"y","type":"quantitative","axis":null},"text":{"field":"lab"}}},
{"data":{"name":"b_g"},"mark":{"type":"circle","color":"#999","opacity":0.5,"size":60},"encoding":{"x":{"field":"x","type":"quantitative","axis":{"orient":"top","title":"b)","titleAnchor":"start","titleFontSize":20,"labels":false,"ticks":false,"domain":false,"titlePadding":10}},"y":{"field":"v","type":"quantitative","axis":null}}},
{"data":{"name":"b_b"},"mark":{"type":"circle","color":"#000","opacity":0.6,"size":60},"encoding":{"x":{"field":"x","type":"quantitative","axis":{"orient":"bottom","title":"Year","values":[1,2,3,4,5]}},"y":{"field":"v","type":"quantitative","axis":null}}}
]},
{"width":469,"height":251,"resolve":{"axis":{"x":"independent","y":"independent"}},"layer":[
{"data":{"name":"d_box"},"transform":[{"filter":"datum.g=='b'"}],"mark":{"type":"rule","color":"#1a1a1a","strokeWidth":1.2,"xOffset":-17},"encoding":{"x":{"field":"year","type":"quantitative","scale":{"domain":[0.4,5.6],"nice":false,"zero":false},"axis":null},"y":{"field":"lo","type":"quantitative","scale":{"domain":[-0.19,4.2],"nice":false,"zero":false},"axis":{"title":"Telomere length (T/S)","values":[0,1,2,3],"labelExpr":"datum.value + ''"}},"y2":{"field":"hi"}}},
{"data":{"name":"d_box"},"transform":[{"filter":"datum.g=='g'"}],"mark":{"type":"rule","color":"#b8b8b8","strokeWidth":1.2,"xOffset":17},"encoding":{"x":{"field":"year","type":"quantitative","axis":null},"y":{"field":"lo","type":"quantitative","axis":null},"y2":{"field":"hi"}}},
{"data":{"name":"d_box"},"transform":[{"filter":"datum.g=='b'"}],"mark":{"type":"bar","fill":"#fff","stroke":"#1a1a1a","strokeWidth":1.3,"size":30,"xOffset":-17},"encoding":{"x":{"field":"year","type":"quantitative","axis":null},"y":{"field":"q1","type":"quantitative","axis":null},"y2":{"field":"q3"}}},
{"data":{"name":"d_box"},"transform":[{"filter":"datum.g=='g'"}],"mark":{"type":"bar","fill":"#fff","stroke":"#b8b8b8","strokeWidth":1.3,"size":30,"xOffset":17},"encoding":{"x":{"field":"year","type":"quantitative","axis":null},"y":{"field":"q1","type":"quantitative","axis":null},"y2":{"field":"q3"}}},
{"data":{"name":"d_box"},"transform":[{"filter":"datum.g=='b'"}],"mark":{"type":"tick","orient":"horizontal","color":"#1a1a1a","thickness":2,"size":30,"xOffset":-17,"opacity":1},"encoding":{"x":{"field":"year","type":"quantitative","axis":null},"y":{"field":"med","type":"quantitative","axis":null}}},
{"data":{"name":"d_box"},"transform":[{"filter":"datum.g=='g'"}],"mark":{"type":"tick","orient":"horizontal","color":"#b8b8b8","thickness":2,"size":30,"xOffset":17,"opacity":1},"encoding":{"x":{"field":"year","type":"quantitative","axis":null},"y":{"field":"med","type":"quantitative","axis":null}}},
{"data":{"values":[{}]},"mark":{"type":"rule","color":"#333","strokeWidth":1.1,"strokeDash":[4,3]},"encoding":{"y":{"datum":0.965,"type":"quantitative","axis":null}}},
{"data":{"values":[{}]},"mark":{"type":"rule","color":"#000","strokeWidth":3.5,"strokeDash":[13,9]},"encoding":{"x":{"datum":4.5,"type":"quantitative","axis":null},"y":{"datum":0,"type":"quantitative","axis":null},"y2":{"datum":2.6}}},
{"data":{"name":"d_g"},"mark":{"type":"circle","color":"#999","opacity":0.5,"size":60},"encoding":{"x":{"field":"x","type":"quantitative","axis":{"orient":"top","title":"d)","titleAnchor":"start","titleFontSize":20,"labels":false,"ticks":false,"domain":false,"titlePadding":10}},"y":{"field":"v","type":"quantitative","axis":null}}},
{"data":{"name":"d_b"},"mark":{"type":"circle","color":"#000","opacity":0.6,"size":60},"encoding":{"x":{"field":"x","type":"quantitative","axis":{"orient":"bottom","title":"Year","values":[1,2,3,4,5]}},"y":{"field":"v","type":"quantitative","axis":null}}}
]}
],"spacing":11}
],
"spacing":0
}
